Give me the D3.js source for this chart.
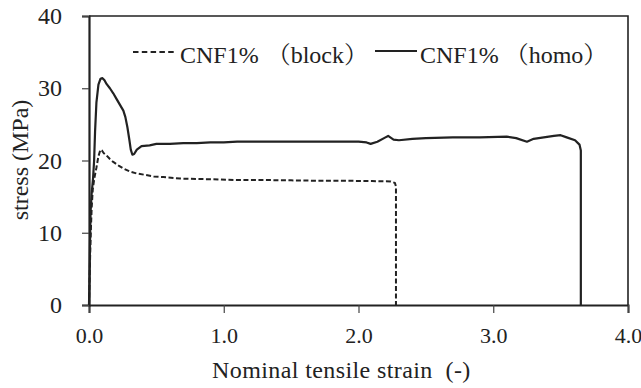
<!DOCTYPE html>
<html>
<head>
<meta charset="utf-8">
<script src="https://cdn.jsdelivr.net/npm/d3@7"></script>
<style>
  html, body { margin: 0; padding: 0; background: #fff; }
  svg { display: block; }
  text { font-family: "Liberation Serif", "Times New Roman", "Noto Serif CJK JP", "Noto Sans CJK JP", serif; fill: #222; }
</style>
</head>
<body>
<svg id="chart" width="641" height="388"></svg>
<script>
// Stress–strain curves, CNF 1% specimens (block vs. homogeneous)
const homoStrain = [0, 0.004, 0.008, 0.012, 0.02, 0.03, 0.038, 0.045, 0.055, 0.07, 0.085, 0.1, 0.115, 0.13, 0.155, 0.18, 0.205, 0.23, 0.255, 0.27, 0.285, 0.3, 0.31, 0.322, 0.335, 0.355, 0.39, 0.45, 0.5, 0.6, 0.7, 0.8, 0.9, 1.0, 1.1, 1.2, 1.4, 1.6, 1.8, 2.0, 2.06, 2.09, 2.14, 2.2, 2.22, 2.26, 2.3, 2.4, 2.5, 2.7, 2.9, 3.1, 3.17, 3.25, 3.3, 3.45, 3.5, 3.545, 3.607, 3.64, 3.65, 3.65];
const homoStress = [0, 4, 9, 13, 15.5, 17.5, 20, 24, 28, 30.5, 31.3, 31.4, 31.1, 30.6, 30.0, 29.3, 28.5, 27.7, 26.9, 26.0, 24.6, 22.8, 21.5, 20.8, 20.9, 21.5, 22.0, 22.1, 22.3, 22.3, 22.4, 22.4, 22.5, 22.5, 22.6, 22.6, 22.6, 22.6, 22.6, 22.6, 22.5, 22.3, 22.6, 23.2, 23.4, 22.9, 22.8, 23.0, 23.1, 23.2, 23.2, 23.3, 23.1, 22.6, 23.0, 23.4, 23.5, 23.2, 22.8, 22.2, 21.4, 0];

const blockStrain = [0, 0.005, 0.01, 0.015, 0.02, 0.028, 0.04, 0.055, 0.07, 0.085, 0.095, 0.11, 0.13, 0.155, 0.18, 0.22, 0.255, 0.3, 0.355, 0.42, 0.48, 0.55, 0.675, 0.8, 0.92, 1.1, 1.3, 1.5, 1.7, 1.9, 2.1, 2.24, 2.27, 2.278, 2.278];
const blockStress = [0, 4, 8, 11, 13.5, 16, 17.6, 19, 20.6, 21.5, 21.4, 21.0, 20.7, 20.2, 19.8, 19.3, 18.9, 18.5, 18.2, 18.0, 17.8, 17.7, 17.5, 17.45, 17.4, 17.3, 17.3, 17.25, 17.2, 17.2, 17.15, 17.1, 16.9, 16.4, 0];

const xTicks = [0, 1, 2, 3, 4];
const yTicks = [0, 10, 20, 30, 40];
const seriesBase = ["CNF1%", "CNF1%"];
const seriesTag = ["（block）", "（homo）"];
const xTitle = "Nominal tensile strain  (-)";
const yTitle = "stress (MPa)";

const svg = d3.select("#chart");
const margin = { left: 89, top: 16, right: 13, bottom: 83 };
const W = 641 - margin.left - margin.right;
const H = 388 - margin.top - margin.bottom;

const x = d3.scaleLinear().domain([0, 4]).range([0, W]);
const y = d3.scaleLinear().domain([0, 40]).range([H, 0]);

const g = svg.append("g").attr("transform", `translate(${margin.left},${margin.top})`);

// frame (top and right edges)
g.append("path")
  .attr("d", `M0,0H${W}V${H}`)
  .attr("fill", "none").attr("stroke", "#222").attr("stroke-width", 1.6);

// x axis
const xAxis = g.append("g").attr("transform", `translate(0,${H})`)
  .call(d3.axisBottom(x).tickValues(xTicks).tickFormat(d3.format(".1f")).tickSize(8).tickPadding(14));
xAxis.select(".domain").attr("stroke", "#222").attr("stroke-width", 2);
xAxis.selectAll(".tick line").attr("stroke", "#444").attr("stroke-width", 1.2);
xAxis.selectAll(".tick text").attr("font-size", 22).attr("fill", "#222")
  .style("font-family", "'Liberation Serif', serif");

// y axis
const yAxis = g.append("g")
  .call(d3.axisLeft(y).tickValues(yTicks).tickSize(7).tickPadding(20));
yAxis.select(".domain").attr("stroke", "#222").attr("stroke-width", 2.2);
yAxis.selectAll(".tick line").attr("stroke", "#444").attr("stroke-width", 1.2);
yAxis.selectAll(".tick text").attr("font-size", 24).attr("fill", "#222")
  .style("font-family", "'Liberation Serif', serif");

// curves
const line = d3.line().x(d => x(d[0])).y(d => y(d[1]));
const blockPts = blockStrain.map((s, i) => [s, blockStress[i]]);
const homoPts = homoStrain.map((s, i) => [s, homoStress[i]]);

g.append("path").datum(blockPts)
  .attr("d", line)
  .attr("fill", "none").attr("stroke", "#222").attr("stroke-width", 2)
  .attr("stroke-dasharray", "5,2.5").attr("stroke-linejoin", "round");

g.append("path").datum(homoPts)
  .attr("d", line)
  .attr("fill", "none").attr("stroke", "#222").attr("stroke-width", 2.2)
  .attr("stroke-linejoin", "round");

// legend
const leg = svg.append("g");
leg.append("line").attr("x1", 133).attr("x2", 177).attr("y1", 52).attr("y2", 52)
  .attr("stroke", "#222").attr("stroke-width", 1.8).attr("stroke-dasharray", "5.5,3.3");
const t0 = leg.append("text").attr("x", 180).attr("y", 63).attr("font-size", 24);
t0.append("tspan").text(seriesBase[0]);
t0.append("tspan").attr("dx", 8).text(seriesTag[0]);
leg.append("line").attr("x1", 375).attr("x2", 417).attr("y1", 51).attr("y2", 51)
  .attr("stroke", "#222").attr("stroke-width", 1.8);
const t1 = leg.append("text").attr("x", 420).attr("y", 63).attr("font-size", 24);
t1.append("tspan").text(seriesBase[1]);
t1.append("tspan").attr("dx", 6).text(seriesTag[1]);

// axis titles
svg.append("text").attr("x", 212).attr("y", 378).attr("font-size", 24)
  .attr("letter-spacing", 0.4)
  .style("white-space", "pre").text(xTitle);
svg.append("text").attr("transform", "translate(28,160) rotate(-90)")
  .attr("text-anchor", "middle").attr("font-size", 24).text(yTitle);
</script>
</body>
</html>
